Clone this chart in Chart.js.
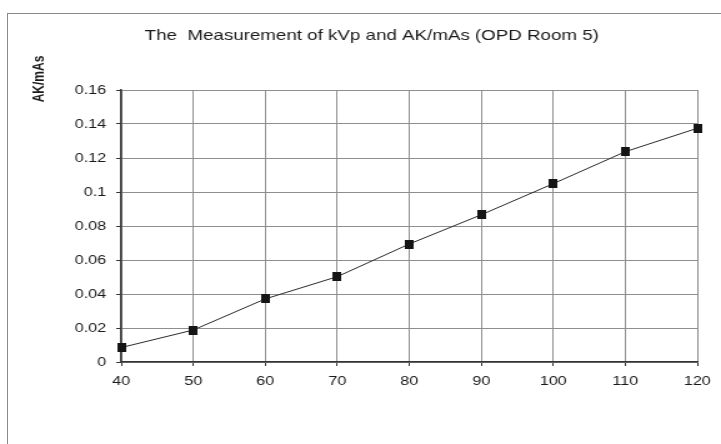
<!DOCTYPE html>
<html>
<head>
<meta charset="utf-8">
<script src="https://cdn.jsdelivr.net/npm/chart.js@4/dist/chart.umd.min.js"></script>
<style>
  html, body { margin: 0; padding: 0; background: #ffffff; overflow: hidden; }
  #wrap { position: relative; width: 721px; height: 444px; }
  #frame { position: absolute; left: 7px; top: 13px; width: 760px; height: 480px; border-left: 1px solid #8a8a8a; border-top: 1px solid #8a8a8a; }
  #c { position: absolute; left: 0; top: 0; }
</style>
</head>
<body>
<div id="wrap">
  <div id="frame"></div>
  <canvas id="c" width="577" height="444" style="width:721px;height:444px"></canvas>
</div>
<script>
// ---- data ----
const chartTitle = 'The  Measurement of kVp and AK/mAs (OPD Room 5)';
const yAxisTitle = 'AK/mAs';
const kvpLabels = ['40', '50', '60', '70', '80', '90', '100', '110', '120'];
const akPerMas = [0.0085, 0.0188, 0.0371, 0.0502, 0.0694, 0.0866, 0.1049, 0.1237, 0.1375];
const yTickLabels = ['0', '0.02', '0.04', '0.06', '0.08', '0.1', '0.12', '0.14', '0.16'];

// the reference is horizontally stretched; canvas is drawn narrow and stretched by CSS
const STRETCH = 721 / 577;

// square marker compensated for the horizontal stretch
const marker = document.createElement('canvas');
marker.width = 7; marker.height = 9;
(function () {
  const m = marker.getContext('2d');
  m.fillStyle = '#151515';
  m.fillRect(0, 0, 7, 9);
})();

const textPlugin = {
  id: 'textPlugin',
  afterDraw(chart) {
    const ctx = chart.ctx;
    const area = chart.chartArea;
    ctx.save();
    ctx.fillStyle = '#1a1a1a';
    ctx.font = '15px "Liberation Sans", Arial, sans-serif';
    ctx.textAlign = 'center';
    ctx.textBaseline = 'middle';
    ctx.fillText(chartTitle, area.left + (area.right - area.left) * 0.435, 36);
    ctx.translate(32, 79);
    ctx.rotate(-Math.PI / 2);
    ctx.font = 'bold 12px "Liberation Sans", Arial, sans-serif';
    ctx.fillText(yAxisTitle, 0, 0);
    ctx.restore();
  }
};

new Chart(document.getElementById('c'), {
  type: 'line',
  data: {
    labels: kvpLabels,
    datasets: [{
      data: akPerMas,
      borderColor: '#2a2a2a',
      borderWidth: 1,
      pointStyle: marker,
      pointRadius: 5,
      pointHoverRadius: 5,
      tension: 0,
      fill: false
    }]
  },
  options: {
    responsive: false,
    devicePixelRatio: 1,
    animation: false,
    layout: { padding: { left: 0, right: 19, top: 90, bottom: 0 } },
    plugins: {
      legend: { display: false },
      title: { display: false },
      tooltip: { enabled: false }
    },
    scales: {
      x: {
        type: 'category',
        offset: false,
        afterFit(scale) { scale.height = 82; },
        grid: { color: '#8e8e8e', lineWidth: 1, tickLength: 4, tickColor: '#333' },
        border: { color: '#333', width: 1.5 },
        ticks: {
          color: '#1a1a1a',
          padding: 8,
          maxRotation: 0,
          autoSkip: false,
          font: { family: '"Liberation Sans", Arial, sans-serif', size: 13 }
        }
      },
      y: {
        min: 0,
        max: 0.16,
        afterFit(scale) { scale.width = 97; },
        grid: { color: '#8e8e8e', lineWidth: 1, tickLength: 4, tickColor: '#333' },
        border: { color: '#333', width: 1.5 },
        ticks: {
          stepSize: 0.02,
          color: '#1a1a1a',
          padding: 8,
          font: { family: '"Liberation Sans", Arial, sans-serif', size: 13 },
          callback: (v, i) => yTickLabels[i]
        }
      }
    }
  },
  plugins: [textPlugin]
});
</script>
</body>
</html>
